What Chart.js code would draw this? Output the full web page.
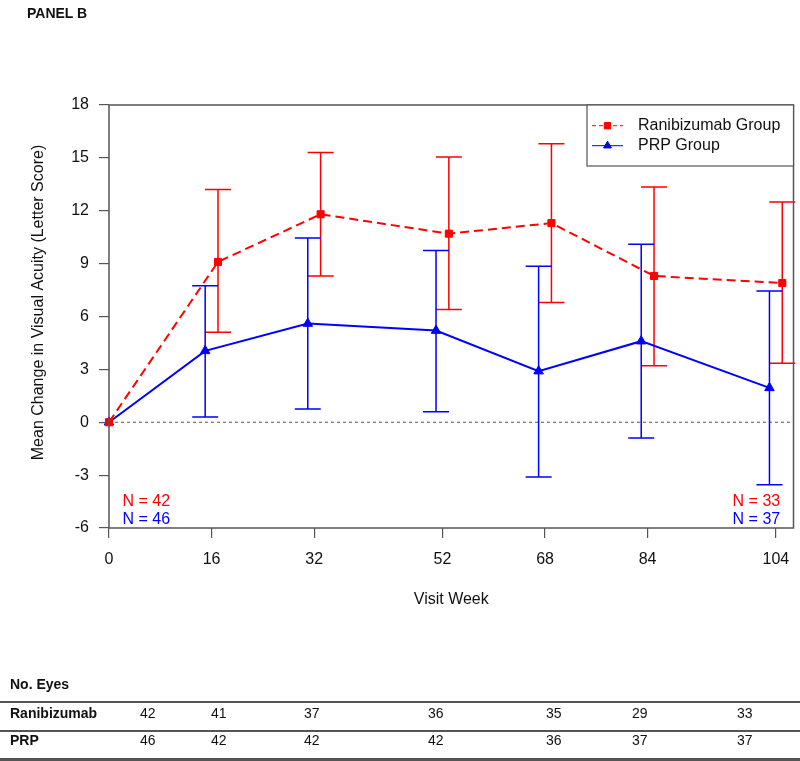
<!DOCTYPE html>
<html>
<head>
<meta charset="utf-8">
<script src="https://cdn.jsdelivr.net/npm/chart.js@4.4.1/dist/chart.umd.min.js"></script>
<style>
  body { margin: 0; background: #fff; font-family: 'Liberation Sans', Arial, sans-serif; }
  #wrap { position: relative; width: 800px; height: 761px; }
  #chart { position: absolute; left: 0; top: 0; }
  .txt { position: absolute; font-size: 14px; line-height: 16px; color: #111; white-space: nowrap; }
  .b { font-weight: bold; }
  .rule { position: absolute; left: 0; width: 800px; background: #555; }
</style>
</head>
<body>
<div id="wrap">
  <canvas id="chart" width="800" height="761"></canvas>
  <div class="txt b" style="left:27px; top:5px;">PANEL B</div>
  <div id="table"></div>
</div>
<script>
// visit weeks and group summaries
var weeks = [0, 16, 32, 52, 68, 84, 104];
var yTicks = [-6, -3, 0, 3, 6, 9, 12, 15, 18];

var ranibizumabMean  = [0, 9.1, 11.8, 10.7, 11.3, 8.3, 7.9];
var ranibizumabUpper = [null, 13.2, 15.3, 15.05, 15.8, 13.35, 12.5];
var ranibizumabLower = [null, 5.1, 8.3, 6.4, 6.8, 3.2, 3.35];

var prpMean  = [0, 4.05, 5.6, 5.2, 2.9, 4.6, 1.95];
var prpUpper = [null, 7.75, 10.45, 9.75, 8.85, 10.1, 7.45];
var prpLower = [null, 0.3, 0.75, 0.6, -3.1, -0.9, -3.55];

var ranibizumabEyes = [42, 41, 37, 36, 35, 29, 33];
var prpEyes = [46, 42, 42, 42, 36, 37, 37];

var RED = '#ff0000', BLUE = '#0000ff', AXIS = '#555';

// small horizontal dodge so the two groups don't sit on top of each other
function points(means, dodge) {
	return weeks.map(function (w, i) {
		return { x: w === 0 ? w : w + dodge, y: means[i] };
	});
}

// number-of-eyes table under the chart
(function buildTable() {
	var cols = [140, 211, 304, 428, 546, 632, 737];
	var html = '<div class="txt b" style="left:10px; top:676px;">No. Eyes</div>';
	html += '<div class="rule" style="top:701px; height:2px;"></div>';
	html += '<div class="txt b" style="left:10px; top:705px;">Ranibizumab</div>';
	ranibizumabEyes.forEach(function (v, i) {
		html += '<div class="txt" style="left:' + cols[i] + 'px; top:705px;">' + v + '</div>';
	});
	html += '<div class="rule" style="top:730px; height:1.5px;"></div>';
	html += '<div class="txt b" style="left:10px; top:732px;">PRP</div>';
	prpEyes.forEach(function (v, i) {
		html += '<div class="txt" style="left:' + cols[i] + 'px; top:732px;">' + v + '</div>';
	});
	html += '<div class="rule" style="top:758px; height:2.5px;"></div>';
	document.getElementById('table').innerHTML = html;
})();

var extras = {
	id: 'extras',
	beforeDatasetsDraw: function (chart) {
		var c = chart.ctx, a = chart.chartArea;
		var y0 = chart.scales.y.getPixelForValue(0);
		c.save();
		c.strokeStyle = AXIS;
		c.lineWidth = 1;
		c.setLineDash([3, 3]);
		c.beginPath();
		c.moveTo(a.left, y0);
		c.lineTo(a.right, y0);
		c.stroke();
		c.setLineDash([]);

		// error bars
		chart.data.datasets.forEach(function (ds, di) {
			var meta = chart.getDatasetMeta(di);
			c.strokeStyle = ds.borderColor;
			c.lineWidth = 1.5;
			meta.data.forEach(function (pt, i) {
				if (ds.upper[i] == null) return;
				var yt = chart.scales.y.getPixelForValue(ds.upper[i]);
				var yb = chart.scales.y.getPixelForValue(ds.lower[i]);
				c.beginPath();
				c.moveTo(pt.x, yt); c.lineTo(pt.x, yb);
				c.moveTo(pt.x - 13, yt); c.lineTo(pt.x + 13, yt);
				c.moveTo(pt.x - 13, yb); c.lineTo(pt.x + 13, yb);
				c.stroke();
			});
		});
		c.restore();
	},
	afterDraw: function (chart) {
		var c = chart.ctx, a = chart.chartArea;
		c.save();
		c.strokeStyle = AXIS;
		c.lineWidth = 1.5;
		c.strokeRect(a.left, a.top, a.right - a.left, a.bottom - a.top);

		// legend box, top right inside the plot
		var lx = 587, ly = a.top, lw = a.right - lx, lh = 61;
		c.fillStyle = '#fff';
		c.fillRect(lx, ly, lw, lh);
		c.lineWidth = 1.2;
		c.strokeRect(lx, ly, lw, lh);
		c.font = "16px 'Liberation Sans', Arial, sans-serif";
		c.textBaseline = 'middle';
		chart.data.datasets.forEach(function (ds, i) {
			var ry = ly + 20.7 + i * 20;
			c.strokeStyle = ds.borderColor;
			c.fillStyle = ds.borderColor;
			c.lineWidth = 1;
			c.setLineDash(i === 0 ? [4, 3] : []);
			c.beginPath();
			c.moveTo(lx + 5, ry); c.lineTo(lx + 36, ry);
			c.stroke();
			c.setLineDash([]);
			Chart.helpers.drawPoint(c, { pointStyle: ds.pointStyle, radius: 4.5, borderWidth: 1, rotation: 0 }, lx + 20.5, ry);
			c.fillStyle = '#111';
			c.textAlign = 'left';
			c.fillText(ds.label, lx + 51, ry);
		});

		// N labels at first and last visit
		c.fillStyle = RED;
		c.textAlign = 'left';
		c.fillText('N = ' + ranibizumabEyes[0], a.left + 13.5, a.bottom - 26.3);
		c.textAlign = 'right';
		c.fillText('N = ' + ranibizumabEyes[ranibizumabEyes.length - 1], a.right - 13.3, a.bottom - 26.3);
		c.fillStyle = BLUE;
		c.textAlign = 'left';
		c.fillText('N = ' + prpEyes[0], a.left + 13.5, a.bottom - 8.7);
		c.textAlign = 'right';
		c.fillText('N = ' + prpEyes[prpEyes.length - 1], a.right - 13.3, a.bottom - 8.7);

		// y axis title
		c.fillStyle = '#111';
		c.translate(39, 302.5);
		c.rotate(-Math.PI / 2);
		c.textAlign = 'center';
		c.fillText('Mean Change in Visual Acuity (Letter Score)', 0, 0);
		c.restore();
	}
};

Chart.defaults.font.family = "'Liberation Sans', Arial, sans-serif";
Chart.defaults.color = '#111';

var ctx = document.getElementById('chart').getContext('2d');
var chart = new Chart(ctx, {
	type: 'line',
	data: {
		datasets: [
		{
			label: 'Ranibizumab Group',
			data: points(ranibizumabMean, 1),
			upper: ranibizumabUpper,
			lower: ranibizumabLower,
			borderColor: RED,
			backgroundColor: RED,
			borderWidth: 2,
			borderDash: [9, 5],
			pointStyle: 'rect',
			pointRadius: 5,
			pointBorderWidth: 1,
			clip: false
		},
		{
			label: 'PRP Group',
			data: points(prpMean, -1),
			upper: prpUpper,
			lower: prpLower,
			borderColor: BLUE,
			backgroundColor: BLUE,
			borderWidth: 2,
			pointStyle: 'triangle',
			pointRadius: 5.5,
			pointBorderWidth: 1,
			clip: false
		}]
	},
	options: {
		responsive: false,
		animation: false,
		layout: { padding: { top: 105, right: 5, bottom: 0, left: 0 } },
		plugins: {
			legend: { display: false },
			tooltip: { enabled: false }
		},
		scales: {
			x: {
				type: 'linear',
				min: 0,
				max: 106.75,
				afterBuildTicks: function (s) {
					s.ticks = weeks.map(function (w) { return { value: w }; });
				},
				afterFit: function (s) {
					s.height = 233;
					s.paddingLeft = 0;
					s.paddingRight = 0;
				},
				grid: { drawOnChartArea: false, drawTicks: true, tickLength: 10, color: AXIS, lineWidth: 1.2 },
				border: { display: false },
				ticks: { autoSkip: false, maxRotation: 0, padding: 12, font: { size: 16 }, color: '#111' },
				title: { display: true, text: 'Visit Week', font: { size: 16 }, color: '#111', padding: { top: 0, bottom: 151.4 } }
			},
			y: {
				min: -6,
				max: 18,
				afterBuildTicks: function (s) {
					s.ticks = yTicks.map(function (v) { return { value: v }; });
				},
				afterFit: function (s) { s.width = 109; },
				grid: { drawOnChartArea: false, drawTicks: true, tickLength: 10, color: AXIS, lineWidth: 1.2 },
				border: { display: false },
				ticks: { padding: 10, font: { size: 16 }, color: '#111' }
			}
		}
	},
	plugins: [extras]
});
</script>
</body>
</html>
